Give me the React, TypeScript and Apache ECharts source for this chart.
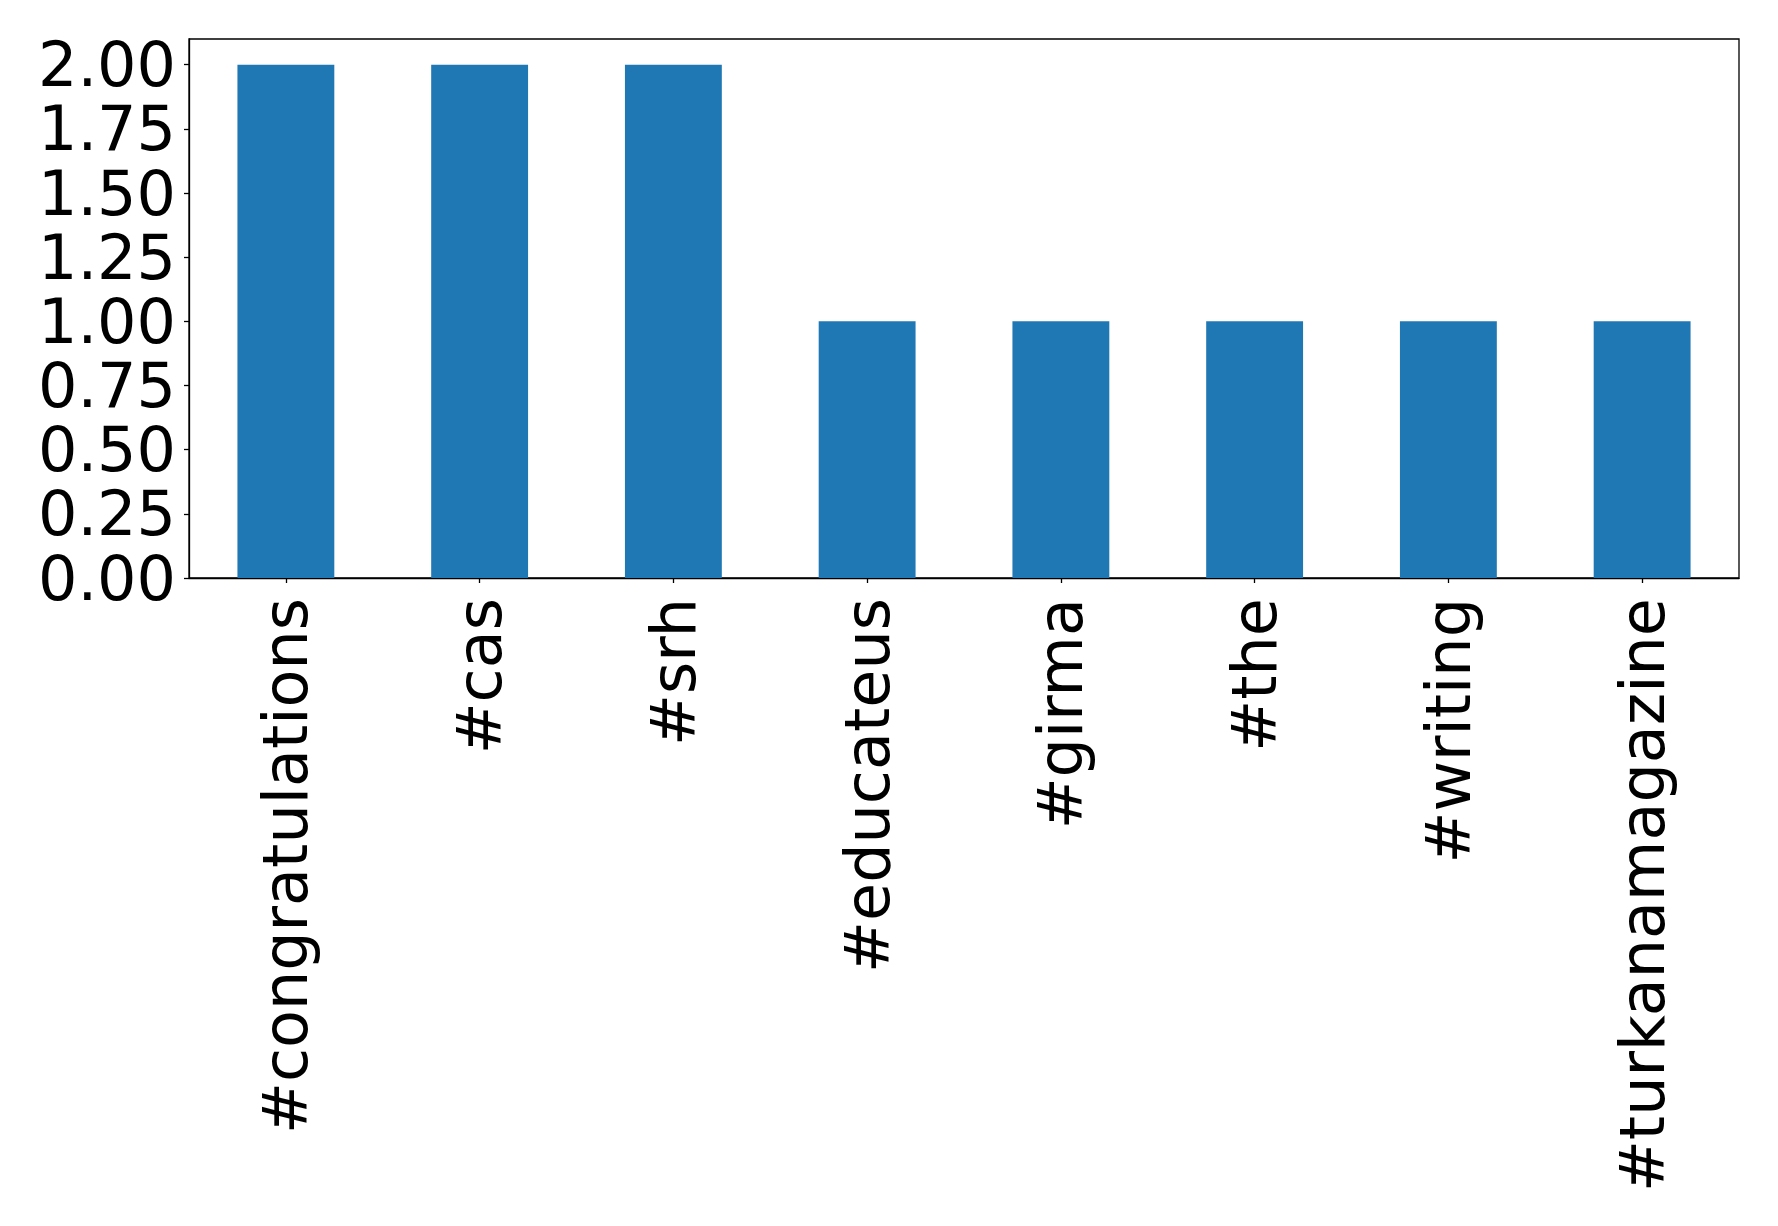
import React, { useEffect, useRef } from "react";
import * as echarts from "echarts";

const categories = [
  "#congratulations",
  "#cas",
  "#srh",
  "#educateus",
  "#girma",
  "#the",
  "#writing",
  "#turkanamagazine",
];
const counts = [2, 2, 2, 1, 1, 1, 1, 1];

export default function App() {
  const ref = useRef<HTMLDivElement>(null);
  useEffect(() => {
    const chart = echarts.init(ref.current!, null, { renderer: "svg" });
    const font = "DejaVu Sans";
    chart.setOption({
      animation: false,
      backgroundColor: "#ffffff",
      grid: {
        left: 189,
        top: 39,
        right: 39,
        bottom: 648,
        show: true,
        borderColor: "#000",
        borderWidth: 1.3,
        containLabel: false,
      },
      xAxis: {
        type: "category",
        data: categories,
        boundaryGap: true,
        axisLine: { show: true, lineStyle: { color: "#000", width: 1.3 } },
        axisTick: { show: true, alignWithLabel: true, length: 5, lineStyle: { color: "#000", width: 1.3 } },
        axisLabel: {
          rotate: 90,
          interval: 0,
          margin: 20,
          color: "#000",
          fontFamily: font,
          fontSize: 62,
          lineHeight: 62,
        },
        splitLine: { show: false },
      },
      yAxis: {
        type: "value",
        min: 0,
        max: 2.1,
        interval: 0.25,
        axisLine: { show: true, lineStyle: { color: "#000", width: 1.3 } },
        axisTick: { show: true, length: 5, lineStyle: { color: "#000", width: 1.3 } },
        axisLabel: {
          margin: 13,
          color: "#000",
          fontFamily: font,
          fontSize: 62,
          lineHeight: 50,
          showMaxLabel: false,
          formatter: (v: number) => {
            const r = Math.round(v * 4) / 4;
            if (Math.abs(r - v) > 1e-6) return "";
            return v.toFixed(2);
          },
        },
        splitLine: { show: false },
      },
      series: [
        {
          type: "bar",
          data: counts,
          barWidth: "50%",
          itemStyle: { color: "#1f77b4" },
        },
      ],
    });
    return () => chart.dispose();
  }, []);
  return (
    <div
      ref={ref}
      style={{ position: "fixed", left: 0, top: 0, width: 1778, height: 1226 }}
    />
  );
}
